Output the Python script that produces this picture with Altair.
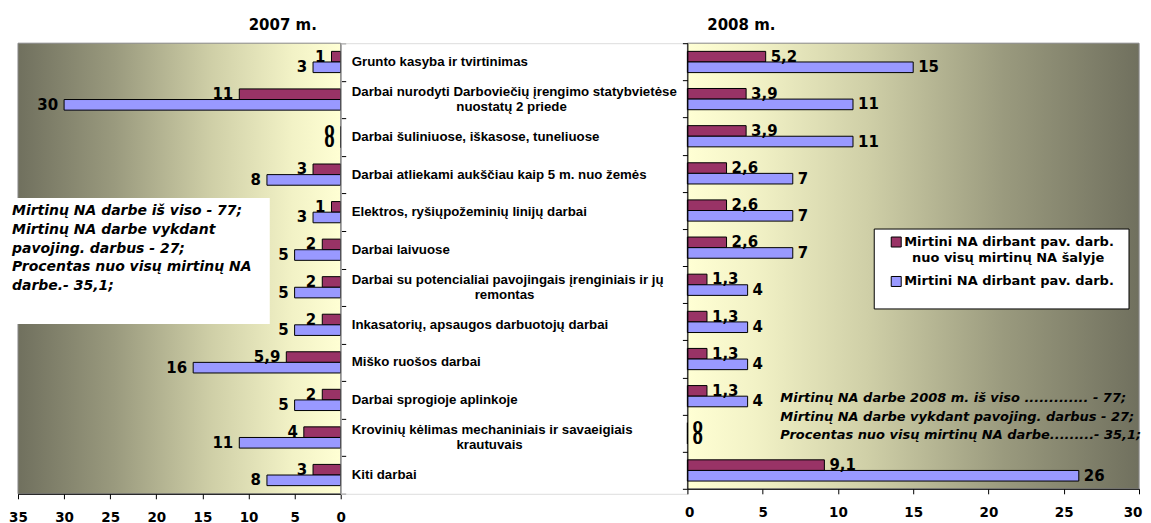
import altair as alt
import pandas as pd

# ---------------- data ----------------
categories = [
    "Grunto kasyba ir tvirtinimas",
    "Darbai nurodyti Darboviečių įrengimo statybvietėse|nuostatų 2 priede",
    "Darbai šuliniuose, iškasose, tuneliuose",
    "Darbai atliekami aukščiau kaip 5 m. nuo žemės",
    "Elektros, ryšiųpožeminių linijų darbai",
    "Darbai laivuose",
    "Darbai su potencialiai pavojingais įrenginiais ir jų|remontas",
    "Inkasatorių, apsaugos darbuotojų darbai",
    "Miško ruošos darbai",
    "Darbai sprogioje aplinkoje",
    "Krovinių kėlimas mechaniniais ir savaeigiais|krautuvais",
    "Kiti darbai",
]
series = [
    "Mirtini NA dirbant pav. darb. nuo visų mirtinų NA šalyje",
    "Mirtini NA dirbant pav. darb.",
]
series_colors = ["#993366", "#9999FF"]

share_2007 = [1, 11, 0, 3, 1, 2, 2, 2, 5.9, 2, 4, 3]
count_2007 = [3, 30, 0, 8, 3, 5, 5, 5, 16, 5, 11, 8]
share_2008 = [5.2, 3.9, 3.9, 2.6, 2.6, 2.6, 1.3, 1.3, 1.3, 1.3, 0, 9.1]
count_2008 = [15, 11, 11, 7, 7, 7, 4, 4, 4, 4, 0, 26]

years = ["2007 m.", "2008 m."]
x_ticks_2007 = [0, 5, 10, 15, 20, 25, 30, 35]
x_ticks_2008 = [0, 5, 10, 15, 20, 25, 30]

note_2007 = [
    "Mirtinų NA darbe  iš viso - 77;",
    "Mirtinų NA darbe vykdant",
    "pavojing. darbus - 27;",
    "Procentas nuo visų mirtinų NA",
    "darbe.- 35,1;",
]
note_2008 = [
    "Mirtinų NA darbe 2008 m. iš viso ............. - 77;",
    "Mirtinų NA darbe vykdant pavojing. darbus - 27;",
    "Procentas nuo visų mirtinų NA darbe.........- 35,1;",
]

# ---------------- styling ----------------
W_L, H_L = 323, 451
W_M = 347
W_R, H_R = 452, 446
NUM_FONT = "DejaVu Sans"
CAT_FONT = "Liberation Sans"
second_line_center = {1: 171, 6: 164, 10: 149}  # px centre of wrapped category labels


def long_df(share, count):
    rows = []
    for i, c in enumerate(categories):
        rows.append({"cat": c, "series": series[0], "value": share[i]})
        rows.append({"cat": c, "series": series[1], "value": count[i]})
    return pd.DataFrame(rows)


def gradient(dark_left):
    stops = [("#70705E", 0.0), ("#9A9A7E", 0.3), ("#CFCFA7", 0.6),
             ("#F2F2C6", 0.85), ("#FFFFD4", 1.0)]
    if not dark_left:
        stops = [(c, round(1 - o, 3)) for c, o in reversed(stops)]
    return alt.Gradient(
        gradient="linear",
        stops=[alt.GradientStop(color=c, offset=o) for c, o in stops],
        x1=0, x2=1, y1=0, y2=0,
    )


one = alt.Data(values=[{"k": 1}])
color_enc = alt.Color("series:N", scale=alt.Scale(domain=series, range=series_colors), legend=None)


def panel(share, count, xmax, ticks, reverse):
    df = long_df(share, count)
    base = alt.Chart(df).transform_calculate(
        lbl="replace(toString(datum.value), '.', ',')"
    )
    y_axis = alt.Axis(
        orient="right" if reverse else "left", labels=False, title=None,
        tickBand="extent", tickSize=5, tickColor="black", domainColor="black",
        grid=False, zindex=1,
    )
    y = alt.Y("cat:N", sort=categories,
              scale=alt.Scale(paddingInner=0, paddingOuter=0), axis=y_axis)
    yo = alt.YOffset("series:N", sort=series,
                     scale=alt.Scale(paddingInner=0, paddingOuter=0.77))
    axis_kw = dict(
        values=ticks, title=None, grid=False, tickSize=5, tickColor="black",
        domainColor="black", labelFont=NUM_FONT, labelFontWeight="bold",
        labelFontSize=13.5, labelColor="black",
        labelPadding=12, labelOverlap=False, zindex=1,
    )
    if reverse:
        axis_kw["labelFlush"] = False
    else:
        axis_kw["labelFlush"] = True
        axis_kw["labelFlushOffset"] = 3
    x = alt.X(
        "value:Q",
        scale=alt.Scale(domain=[0, xmax], reverse=reverse, nice=False),
        axis=alt.Axis(**axis_kw),
    )
    bg = alt.Chart(one).mark_rect(
        fill=gradient(reverse), stroke="#8A8A8A", strokeWidth=1
    ).encode(x=alt.value(0), x2=alt.value("width"), y=alt.value(0), y2=alt.value("height"))
    bars = base.mark_bar(stroke="black", strokeWidth=1).encode(
        x=x, y=y, yOffset=yo, color=color_enc
    )
    labels = base.mark_text(
        align="right" if reverse else "left", dx=-6 if reverse else 5,
        baseline="middle", font=NUM_FONT, fontWeight="bold", fontSize=15, color="black",
    ).encode(x="value:Q", y=alt.Y("cat:N", sort=categories), yOffset=alt.YOffset("series:N", sort=series), text="lbl:N")
    return [bg, bars, labels]


# ---------------- left panel (2007) ----------------
left_layers = panel(share_2007, count_2007, 35, x_ticks_2007, True)
white_box = alt.Chart(one).mark_rect(fill="white").encode(
    x=alt.value(-8), x2=alt.value(252), y=alt.value(155), y2=alt.value(281)
)
left_note = alt.Chart(one).mark_text(
    align="left", baseline="top", font=NUM_FONT, fontWeight="bold", fontStyle="italic",
    fontSize=14, lineHeight=18.8, color="black", text=note_2007,
).encode(x=alt.value(-6), y=alt.value(161))
left_title = alt.Chart(one).mark_text(
    align="center", baseline="middle", font=NUM_FONT, fontWeight="bold", fontSize=15,
    color="black", text=years[0],
).encode(x=alt.value(265), y=alt.value(-18))
left = alt.layer(*left_layers, white_box, left_note, left_title).properties(width=W_L, height=H_L)

# ---------------- middle: category labels ----------------
mid_rows = []
for i, c in enumerate(categories):
    parts = c.split("|")
    mid_rows.append({
        "cat": c, "line1": parts[0], "line2": parts[1] if len(parts) > 1 else "",
        "two": len(parts) > 1, "cx": second_line_center.get(i, 0),
    })
mid_df = pd.DataFrame(mid_rows)
my = alt.Y("cat:N", sort=categories, axis=None, scale=alt.Scale(paddingInner=0, paddingOuter=0))
txt = dict(font=CAT_FONT, fontWeight="bold", fontSize=13.3, color="black", baseline="middle")
mid_single = alt.Chart(mid_df).transform_filter("!datum.two").mark_text(align="left", **txt).encode(
    x=alt.value(11), y=my, text="line1:N")
mid_l1 = alt.Chart(mid_df).transform_filter("datum.two").mark_text(align="left", dy=-7.5, **txt).encode(
    x=alt.value(11), y=my, text="line1:N")
mid_l2 = alt.Chart(mid_df).transform_filter("datum.two").mark_text(align="center", dy=7.5, **txt).encode(
    x=alt.X("cx:Q", scale=None), y=my, text="line2:N")
middle = alt.layer(mid_single, mid_l1, mid_l2).properties(width=W_M, height=H_L)

# ---------------- right panel (2008) ----------------
right_layers = panel(share_2008, count_2008, 30, x_ticks_2008, False)
legend_df = pd.DataFrame({"series": series})
legend_box = alt.Chart(one).mark_rect(fill="white", stroke="black", strokeWidth=1).encode(
    x=alt.value(187), x2=alt.value(442), y=alt.value(186), y2=alt.value(266))
legend_layers = [legend_box]
leg_txt = dict(font=NUM_FONT, fontWeight="bold", fontSize=13, color="black", baseline="middle")
for i, s in enumerate(series):
    yy = 199 + 39.5 * i
    legend_layers.append(
        alt.Chart(legend_df).transform_filter(alt.datum.series == s).mark_square(
            size=100, opacity=1, stroke="black", strokeWidth=1
        ).encode(x=alt.value(209), y=alt.value(yy), color=color_enc)
    )
    words = s.split(" ")
    first = " ".join(words[:5])
    rest = " ".join(words[5:])
    legend_layers.append(
        alt.Chart(one).mark_text(align="left", text=first, **leg_txt).encode(
            x=alt.value(217), y=alt.value(yy))
    )
    if rest:
        legend_layers.append(
            alt.Chart(one).mark_text(align="center", text=rest, **leg_txt).encode(
                x=alt.value(321), y=alt.value(yy + 16))
        )
right_note = alt.Chart(one).mark_text(
    align="left", baseline="top", font=NUM_FONT, fontWeight="bold", fontStyle="italic",
    fontSize=13, lineHeight=18.5, color="black", text=note_2008,
).encode(x=alt.value(93), y=alt.value(349.5))
right_title = alt.Chart(one).mark_text(
    align="center", baseline="middle", font=NUM_FONT, fontWeight="bold", fontSize=15,
    color="black", text=years[1],
).encode(x=alt.value(54), y=alt.value(-18))
right = alt.layer(*right_layers, *legend_layers, right_note, right_title).properties(width=W_R, height=H_R)

chart = alt.hconcat(left, middle, right, spacing=0, bounds="flush").resolve_scale(
    x="independent", y="independent"
).properties(
    padding={"left": 0, "top": 9, "right": 0, "bottom": 0}
).configure_view(stroke="transparent").configure(background="white")

chart.save("out.html", embed_options={"renderer": "svg", "actions": False})
